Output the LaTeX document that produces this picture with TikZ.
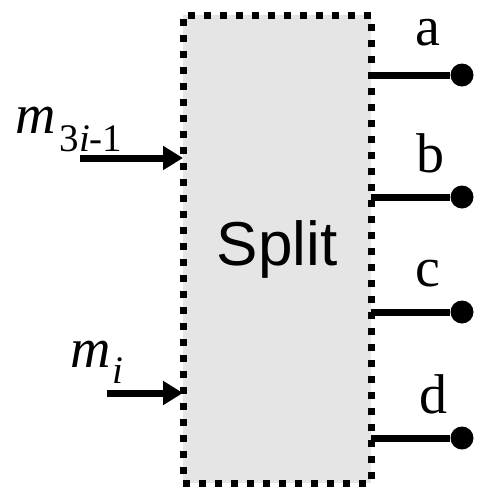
\documentclass[tikz,border=0pt]{standalone}
\usepackage{fontspec}
\setmainfont{Liberation Serif}
\setsansfont{Liberation Sans}
\usetikzlibrary{arrows.meta,positioning}

\begin{document}
\begin{tikzpicture}[
    x=1pt, y=-1pt,
    block/.style={
        rectangle,
        draw,
        fill=black!10,
        line width=7pt,
        dash pattern=on 7pt off 9pt,
        minimum width=188pt,
        minimum height=468pt,
        inner sep=0pt,
        outer sep=0pt,
        font=\sffamily\fontsize{62}{70}\selectfont
    },
    port/.style={circle, fill, inner sep=0pt, minimum size=23pt},
    outline/.style={line width=7pt},
    inarrow/.style={-{Triangle[length=20pt,width=23pt]}, line width=7pt},
    lbl/.style={font=\fontsize{56}{60}\selectfont, inner sep=0pt, anchor=base}
]
\useasboundingbox (0,0) rectangle (477,491);

\node[block] (split) at (277,249) {Split};

% outputs
\node[port] (pa) at (462,75) {};
\node[port] (pb) at (462,197) {};
\node[port] (pc) at (462,312) {};
\node[port] (pd) at (462,438) {};

\draw[outline] (split.east |- pa) -- (pa);
\draw[outline] (split.east |- pb) -- (pb);
\draw[outline] (split.east |- pc) -- (pc);
\draw[outline] (split.east |- pd) -- (pd);

\node[lbl] (la) at (428,45) {a};
\node[lbl] (lb) at (430,172) {b};
\node[lbl] (lc) at (428,286) {c};
\node[lbl] (ld) at (433,413) {d};

% inputs
\coordinate (in1) at (80,158);
\coordinate (in2) at (107,393);

\draw[inarrow] (in1) -- (split.west |- in1);
\draw[inarrow] (in2) -- (split.west |- in2);

\node[lbl, anchor=base west] (lm1) at (15,133)
{\textit{m}\kern4pt\raisebox{-18pt}{\fontsize{39}{39}\selectfont 3\textit{i}-1}};
\node[lbl, anchor=base west] (lm2) at (70,367)
{\textit{m}\kern2pt\raisebox{-16pt}{\fontsize{39}{39}\selectfont\textit{i}}};

\end{tikzpicture}
\end{document}
